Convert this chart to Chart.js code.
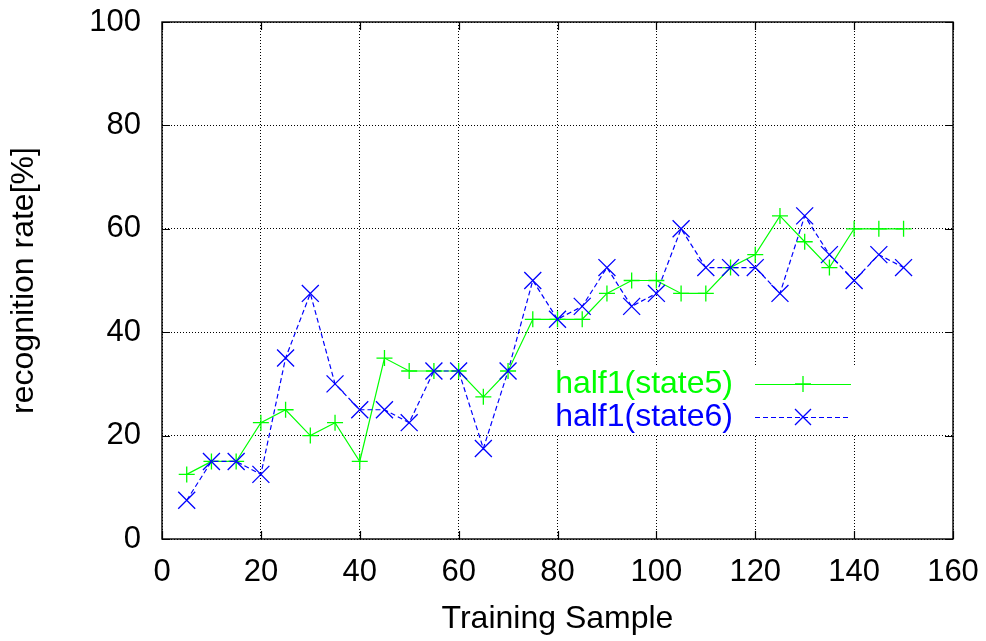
<!DOCTYPE html>
<html>
<head>
<meta charset="utf-8">
<script src="https://cdn.jsdelivr.net/npm/chart.js@4/dist/chart.umd.min.js"></script>
<style>
  html, body { margin: 0; padding: 0; background: #fff; }
  #wrap { width: 986px; height: 641px; }
</style>
</head>
<body>
<div id="wrap"><canvas id="c" width="986" height="641"></canvas></div>
<script>
// Training sample counts (x) and recognition rates (%) for the two state models
const samples = [5, 10, 15, 20, 25, 30, 35, 40, 45, 50, 55, 60, 65, 70, 75,
                 80, 85, 90, 95, 100, 105, 110, 115, 120, 125, 130, 135, 140, 145, 150];
const state5 = [12.5, 15, 15, 22.5, 25, 20, 22.5, 15, 35, 32.5, 32.5, 32.5, 27.5, 32.5, 42.5,
                42.5, 42.5, 47.5, 50, 50, 47.5, 47.5, 52.5, 55, 62.5, 57.5, 52.5, 60, 60, 60];
const state6 = [7.5, 15, 15, 12.5, 35, 47.5, 30, 25, 25, 22.5, 32.5, 32.5, 17.5, 32.5, 50,
                42.5, 45, 52.5, 45, 47.5, 60, 52.5, 52.5, 52.5, 47.5, 62.5, 55, 50, 55, 52.5];
const seriesNames = ['half1(state5)', 'half1(state6)'];
const xTicks = [0, 20, 40, 60, 80, 100, 120, 140, 160];
const yTicks = [0, 20, 40, 60, 80, 100];

const GREEN = '#00ff00';
const BLUE = '#0000ff';
const FONT = '"Liberation Sans", Arial, sans-serif';

const toPoints = (ys) => samples.map((x, i) => ({ x: x, y: ys[i] }));

// Frame, inner tick marks, cleared key area and the key itself
const frameAndKey = {
  id: 'frameAndKey',
  beforeDatasetsDraw(chart) {
    const ctx = chart.ctx;
    // key area is kept clear of grid lines
    ctx.save();
    ctx.fillStyle = '#fff';
    ctx.fillRect(549, 367, 312, 67);
    ctx.restore();
  },
  afterDatasetsDraw(chart) {
    const ctx = chart.ctx;
    const a = chart.chartArea;
    const xs = chart.scales.x, ys = chart.scales.y;
    const tl = 8;
    ctx.save();
    ctx.strokeStyle = '#000';
    ctx.lineWidth = 1.2;
    ctx.setLineDash([]);
    ctx.beginPath();
    xTicks.forEach(v => {
      const px = Math.round(xs.getPixelForValue(v)) + 0.5;
      ctx.moveTo(px, a.bottom); ctx.lineTo(px, a.bottom - tl);
      ctx.moveTo(px, a.top); ctx.lineTo(px, a.top + tl);
    });
    yTicks.forEach(v => {
      const py = Math.round(ys.getPixelForValue(v)) + 0.5;
      ctx.moveTo(a.left, py); ctx.lineTo(a.left + tl, py);
      ctx.moveTo(a.right, py); ctx.lineTo(a.right - tl, py);
    });
    ctx.stroke();
    ctx.lineWidth = 1.4;
    ctx.strokeRect(a.left, a.top, a.right - a.left, a.bottom - a.top);

    // key
    const rows = [
      { text: seriesNames[0], color: GREEN, dash: [], y: 384, mark: 'plus' },
      { text: seriesNames[1], color: BLUE, dash: [5, 3], y: 417, mark: 'x' }
    ];
    ctx.font = '32px ' + FONT;
    ctx.textAlign = 'right';
    ctx.textBaseline = 'middle';
    rows.forEach(r => {
      ctx.fillStyle = r.color;
      ctx.fillText(r.text, 733, r.y);
      ctx.strokeStyle = r.color;
      ctx.lineWidth = 1.2;
      ctx.setLineDash(r.dash);
      ctx.beginPath();
      ctx.moveTo(755, r.y + 0.5); ctx.lineTo(851, r.y + 0.5);
      ctx.stroke();
      ctx.setLineDash([]);
      ctx.lineWidth = 1.3;
      ctx.beginPath();
      if (r.mark === 'plus') {
        ctx.moveTo(803 - 8, r.y); ctx.lineTo(803 + 8, r.y);
        ctx.moveTo(803, r.y - 8); ctx.lineTo(803, r.y + 8);
      } else {
        ctx.moveTo(803 - 8, r.y - 8); ctx.lineTo(803 + 8, r.y + 8);
        ctx.moveTo(803 - 8, r.y + 8); ctx.lineTo(803 + 8, r.y - 8);
      }
      ctx.stroke();
    });
    ctx.restore();
  }
};

new Chart(document.getElementById('c'), {
  type: 'line',
  data: {
    datasets: [
      {
        label: seriesNames[0],
        data: toPoints(state5),
        borderColor: GREEN,
        backgroundColor: GREEN,
        borderWidth: 1.2,
        pointStyle: 'cross',
        pointRadius: 8,
        pointBorderWidth: 1.3,
        pointBorderColor: GREEN,
        tension: 0,
        fill: false,
        order: 1
      },
      {
        label: seriesNames[1],
        data: toPoints(state6),
        borderColor: BLUE,
        backgroundColor: BLUE,
        borderWidth: 1.2,
        borderDash: [5, 3],
        pointStyle: 'crossRot',
        pointRadius: 12,
        pointBorderWidth: 1.3,
        pointBorderColor: BLUE,
        tension: 0,
        fill: false,
        order: 0
      }
    ]
  },
  options: {
    responsive: false,
    animation: false,
    devicePixelRatio: 1,
    layout: { padding: { top: 22, right: 33, bottom: 0, left: 0 } },
    plugins: {
      legend: { display: false },
      tooltip: { enabled: false }
    },
    scales: {
      x: {
        type: 'linear',
        min: 0, max: 160,
        afterFit(scale) {
          scale.height = 102;
          scale.paddingLeft = 0;
          scale.paddingRight = 0;
        },
        afterBuildTicks(scale) { scale.ticks = xTicks.map(v => ({ value: v })); },
        grid: { color: '#000', lineWidth: 1, drawTicks: false },
        border: { display: false, dash: [1, 2] },
        ticks: { color: '#000', padding: 15, maxRotation: 0, font: { family: FONT, size: 31 } },
        title: {
          display: true, text: 'Training Sample', color: '#000',
          font: { family: FONT, size: 32 }, padding: { top: 0, bottom: 3 }
        }
      },
      y: {
        type: 'linear',
        min: 0, max: 100,
        afterFit(scale) {
          scale.width = 162;
          scale.paddingTop = 0;
          scale.paddingBottom = 0;
        },
        afterBuildTicks(scale) { scale.ticks = yTicks.map(v => ({ value: v })); },
        grid: { color: '#000', lineWidth: 1, drawTicks: false },
        border: { display: false, dash: [1, 2] },
        ticks: { color: '#000', padding: 21, font: { family: FONT, size: 31 } },
        title: {
          display: true, text: 'recognition rate[%]', color: '#000',
          font: { family: FONT, size: 32 }, padding: { top: 5, bottom: 0 }
        }
      }
    }
  },
  plugins: [frameAndKey]
});
</script>
</body>
</html>
